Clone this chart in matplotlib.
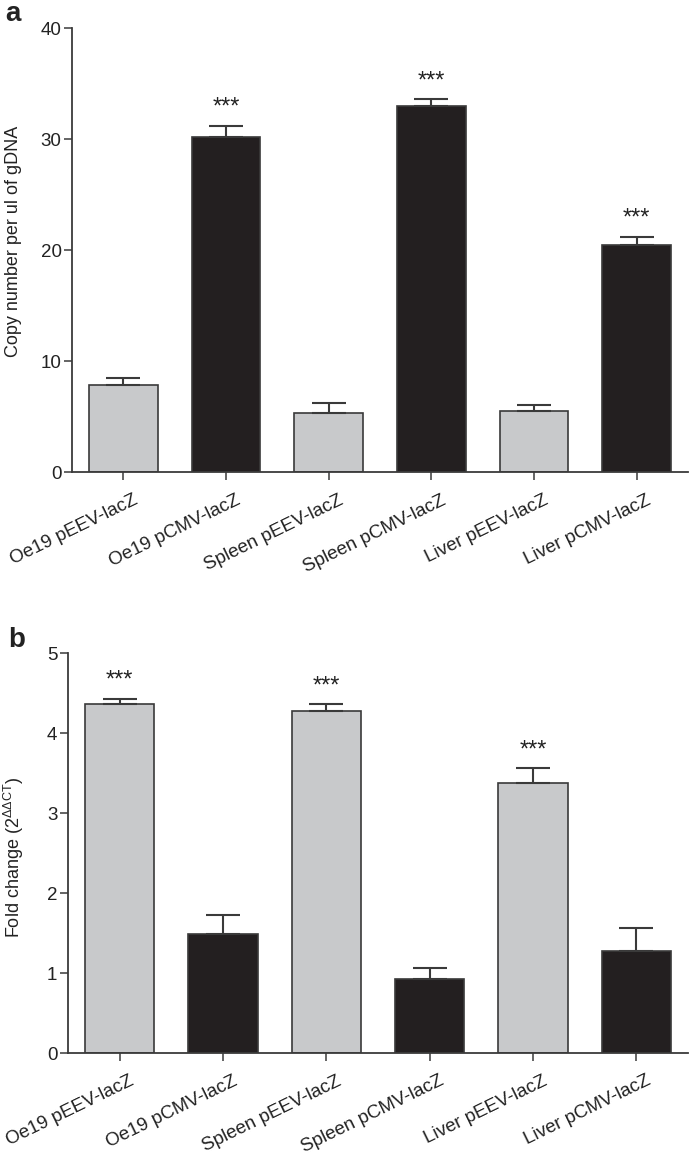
import matplotlib
matplotlib.use('Agg')
import matplotlib.pyplot as plt

plt.rcParams['font.family'] = ['Liberation Sans', 'DejaVu Sans']
plt.rcParams['mathtext.fontset'] = 'custom'
plt.rcParams['mathtext.rm'] = 'Liberation Sans'
plt.rcParams['mathtext.it'] = 'Liberation Sans:italic'

labels = ['Oe19 pEEV-lacZ', 'Oe19 pCMV-lacZ', 'Spleen pEEV-lacZ',
          'Spleen pCMV-lacZ', 'Liver pEEV-lacZ', 'Liver pCMV-lacZ']

# panel a: copy number
copy_mean = [7.9, 30.2, 5.3, 33.0, 5.5, 20.5]
copy_err = [0.6, 1.0, 0.9, 0.6, 0.6, 0.7]
copy_sig = ['', '***', '', '***', '', '***']

# panel b: fold change
fold_mean = [4.36, 1.49, 4.28, 0.93, 3.38, 1.27]
fold_err = [0.07, 0.24, 0.08, 0.13, 0.18, 0.29]
fold_sig = ['***', '', '***', '', '***', '']

grey = '#c8c9cb'
black = '#231f20'
edge = '#3a3a3a'
txt = '#222222'


def bar_panel(ax, mean, err, sig, ylim, yticks, ylabel, label_xy):
    x = list(range(len(mean)))
    ax.bar(x, mean, width=0.67, color=[grey, black] * 3, edgecolor=edge,
           linewidth=1.2, zorder=2)
    ax.errorbar(x, mean, yerr=[[0] * len(err), err], fmt='none', ecolor=edge,
                elinewidth=1.5, capsize=12.5, capthick=1.5, zorder=3)
    for i, s in enumerate(sig):
        if s:
            ax.annotate(s, (i, mean[i] + err[i]), xytext=(0, 5), textcoords='offset points',
                        ha='center', va='bottom', fontsize=17, color=txt)
    ax.set_xlim(-0.5, len(mean) - 0.5)
    ax.set_ylim(*ylim)
    ax.set_yticks(yticks)
    ax.set_xticks(x)
    ax.set_xticklabels([])
    # rotated category labels, ending a little right of their tick
    for i, lab in enumerate(labels):
        ax.annotate(lab, (i, 0), xycoords=('data', 'axes fraction'),
                    xytext=(7, -14), textcoords='offset points',
                    rotation=26, rotation_mode='anchor', ha='right', va='top',
                    fontsize=13.5, color=txt, annotation_clip=False)
    ax.tick_params(axis='both', direction='out', length=5.5, width=1.1, color=edge,
                   labelsize=13.5, labelcolor=txt)
    ax.tick_params(axis='y', pad=2)
    for sp in ['top', 'right']:
        ax.spines[sp].set_visible(False)
    for sp in ['left', 'bottom']:
        ax.spines[sp].set_color(edge)
        ax.spines[sp].set_linewidth(1.3)
    ax.set_ylabel(ylabel, fontsize=13, color=txt)
    ax.yaxis.set_label_coords(*label_xy)


fig = plt.figure(figsize=(7, 11.69), dpi=100)
ax1 = fig.add_axes([0.103, 0.596, 0.880, 0.380])
ax2 = fig.add_axes([0.097, 0.0992, 0.886, 0.3422])

bar_panel(ax1, copy_mean, copy_err, copy_sig, (0, 40), [0, 10, 20, 30, 40],
          'Copy number per ul of gDNA', (-0.082, 0.52))
bar_panel(ax2, fold_mean, fold_err, fold_sig, (0, 5), [0, 1, 2, 3, 4, 5],
          r'Fold change (2$^{\Delta\Delta \mathrm{CT}}$)', (-0.068, 0.49))

fig.text(0.008, 1 - 14 / 1169, 'a', fontsize=20, fontweight='bold', color=txt,
         ha='left', va='center')
fig.text(0.012, 1 - 640 / 1169, 'b', fontsize=20, fontweight='bold', color=txt,
         ha='left', va='center')

fig.savefig('out.png', dpi=100)
